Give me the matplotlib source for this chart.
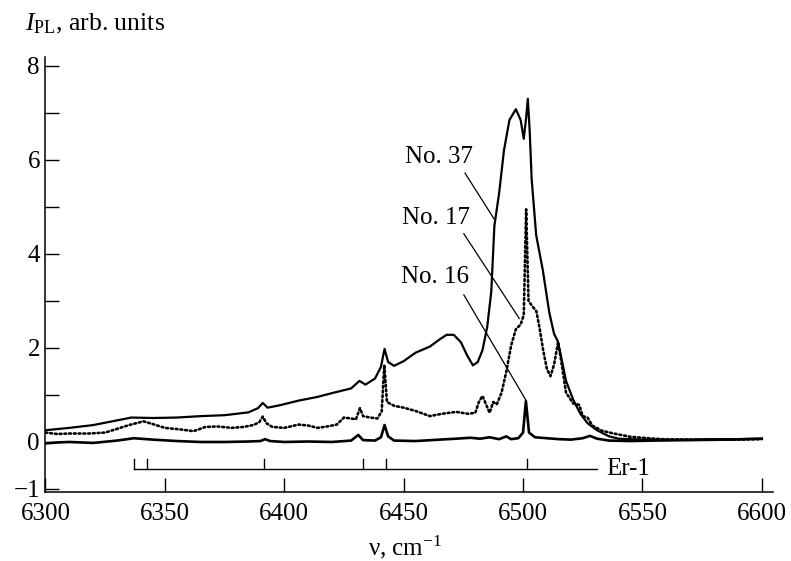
import matplotlib
matplotlib.use("Agg")
import matplotlib.pyplot as plt
from matplotlib.ticker import MultipleLocator

plt.rcParams['font.family'] = ['Liberation Serif', 'DejaVu Serif']
plt.rcParams['mathtext.fontset'] = 'custom'
plt.rcParams['mathtext.rm'] = 'Liberation Serif'
plt.rcParams['mathtext.it'] = 'Liberation Serif:italic'

# ---- data ----
x37 = [6300, 6310, 6320, 6330, 6336, 6345, 6355, 6365, 6375, 6385, 6389, 6391, 6393,
       6398, 6406, 6414, 6420, 6428, 6431.5, 6434, 6438, 6440.5, 6442, 6443.5, 6446,
       6450, 6455, 6461, 6465, 6468, 6471, 6474, 6476.5, 6479, 6481, 6483, 6485,
       6486.7, 6488, 6490, 6492, 6494.3, 6497, 6499, 6500.3, 6501.3, 6502, 6502.8,
       6503.6, 6505.5, 6508.3, 6511, 6513, 6514.5, 6516, 6518, 6521, 6524, 6527,
       6531, 6536, 6540, 6550, 6560, 6570, 6580, 6590, 6600]
y37 = [0.25, 0.30, 0.36, 0.46, 0.52, 0.51, 0.52, 0.55, 0.57, 0.63, 0.72, 0.83, 0.73,
       0.78, 0.88, 0.96, 1.04, 1.14, 1.30, 1.22, 1.35, 1.60, 1.98, 1.70, 1.62,
       1.72, 1.90, 2.03, 2.18, 2.28, 2.28, 2.12, 1.85, 1.63, 1.70, 1.95, 2.45,
       3.20, 4.60, 5.30, 6.20, 6.85, 7.08, 6.85, 6.45, 6.90, 7.30, 6.60,
       5.60, 4.40, 3.65, 2.75, 2.30, 2.15, 1.80, 1.30, 0.90, 0.60, 0.40,
       0.25, 0.12, 0.07, 0.05, 0.05, 0.05, 0.06, 0.06, 0.07]

x17 = [6300, 6305, 6310, 6318, 6325, 6330, 6335, 6341, 6345, 6350, 6356, 6362, 6367,
       6372, 6378, 6383, 6387, 6389.5, 6391, 6392.5, 6395, 6400, 6406, 6410, 6414,
       6418, 6422, 6425, 6428, 6430, 6431.7, 6433, 6436, 6439, 6440.8, 6441.9, 6443,
       6446, 6450, 6455, 6461, 6466, 6472, 6477, 6480, 6481.5, 6483, 6484.5, 6486,
       6487.5, 6489, 6491, 6493, 6495, 6497, 6499, 6500.3, 6501.3, 6502.3, 6504,
       6505.6, 6507, 6508.4, 6510, 6511.5, 6513, 6514.7, 6516.2, 6518, 6521, 6523.5,
       6525, 6527, 6529, 6533, 6538, 6545, 6550, 6558, 6570, 6580, 6590, 6600]
y17 = [0.20, 0.17, 0.18, 0.18, 0.20, 0.28, 0.36, 0.44, 0.38, 0.30, 0.27, 0.23, 0.32,
       0.33, 0.30, 0.32, 0.36, 0.42, 0.54, 0.40, 0.32, 0.30, 0.37, 0.35, 0.30,
       0.33, 0.37, 0.52, 0.50, 0.48, 0.72, 0.55, 0.52, 0.50, 0.65, 1.64, 0.85,
       0.77, 0.73, 0.66, 0.55, 0.60, 0.64, 0.60, 0.62, 0.85, 0.98, 0.80, 0.62,
       0.85, 0.80, 1.05, 1.50, 2.05, 2.40, 2.50, 2.70, 4.95, 3.00, 2.88,
       2.78, 2.40, 1.96, 1.55, 1.40, 1.65, 2.13, 1.65, 1.05, 0.82, 0.79,
       0.55, 0.52, 0.35, 0.24, 0.18, 0.11, 0.09, 0.06, 0.05, 0.05, 0.05, 0.06]

x16 = [6300, 6305, 6310, 6320, 6330, 6337, 6345, 6355, 6365, 6375, 6385, 6390, 6392,
       6394, 6400, 6410, 6420, 6428, 6431, 6433, 6438, 6440.5, 6442, 6443.5, 6446,
       6455, 6465, 6472, 6478, 6482, 6486, 6490, 6493, 6495, 6498, 6500, 6501.2,
       6502.5, 6505, 6510, 6515, 6520, 6525, 6528, 6531, 6536, 6545, 6555, 6570,
       6585, 6600]
y16 = [-0.03, -0.01, 0.00, -0.02, 0.03, 0.08, 0.05, 0.02, 0.00, 0.00, 0.01, 0.02, 0.06,
       0.02, 0.00, 0.01, 0.00, 0.03, 0.15, 0.04, 0.03, 0.10, 0.36, 0.12, 0.03,
       0.02, 0.05, 0.07, 0.09, 0.07, 0.10, 0.06, 0.12, 0.06, 0.08, 0.20, 0.87,
       0.20, 0.10, 0.08, 0.06, 0.05, 0.08, 0.13, 0.07, 0.03, 0.02, 0.03, 0.04,
       0.05, 0.07]

er_lines = [6337, 6342.5, 6391.5, 6433, 6442.5, 6501.5]
er_span = [6337, 6531]
er_level = -0.57
er_top = -0.36

labels = ["No. 37", "No. 17", "No. 16"]
label_pos = [(6464.8, 6.06), (6463.5, 4.77), (6463.2, 3.50)]
leader_start = [(6475.7, 5.72), (6475.2, 4.43), (6475.2, 3.13)]
leader_end = [(6488.2, 4.72), (6498.4, 2.63), (6501.2, 0.89)]

xticks = [6300, 6350, 6400, 6450, 6500, 6550, 6600]
yticks = [-1, 0, 2, 4, 6, 8]

# ---- figure ----
fig = plt.figure(figsize=(7.91, 5.61), dpi=100)
ax = fig.add_axes([0.0575, 0.1225, 0.9195, 0.7767])

ax.plot(x37, y37, color='black', lw=1.6, solid_joinstyle='round')
ax.plot(x17, y17, color='black', lw=1.9, linestyle=(0, (0.7, 1.1)), dash_capstyle='round')
ax.plot(x16, y16, color='black', lw=1.9, solid_joinstyle='round')

# Er-1 stick diagram
ax.plot(er_span, [er_level, er_level], color='black', lw=1.0)
for xv in er_lines:
    ax.plot([xv, xv], [er_level, er_top], color='black', lw=1.0)
ax.text(er_span[1] + 4, er_level, "Er-1", fontsize=18, va='center', ha='left')

for lab, (tx, ty), (sx, sy), (ex, ey) in zip(labels, label_pos, leader_start, leader_end):
    ax.text(tx, ty, lab, fontsize=18, ha='center', va='center')
    ax.plot([sx, ex], [sy, ey], color='black', lw=0.9)

ax.set_xlim(6300, 6604.6)
ax.set_ylim(-1.07, 8.2)
ax.set_xticks(xticks)
ax.set_yticks(yticks)
ax.set_yticklabels(['\u22121', '0', '2', '4', '6', '8'])
ax.yaxis.set_minor_locator(MultipleLocator(1))
ax.tick_params(axis='both', which='both', direction='in', length=10, width=1.0,
               labelsize=18)
ax.tick_params(axis='x', pad=8)
ax.tick_params(axis='y', pad=4)
ax.tick_params(axis='x', which='minor', bottom=False)
for s in ['top', 'right']:
    ax.spines[s].set_visible(False)
for s in ['left', 'bottom']:
    ax.spines[s].set_linewidth(1.1)

fig.text(25 / 791, 1 - 30 / 561, r"$I_{\mathrm{PL}}$, arb. units", fontsize=18.5,
         ha='left', va='baseline')
fig.text(405 / 791, 1 - 555 / 561, "\u03bd, cm$^{\u22121}$", fontsize=18,
         ha='center', va='baseline')

fig.savefig("out.png", dpi=100)
